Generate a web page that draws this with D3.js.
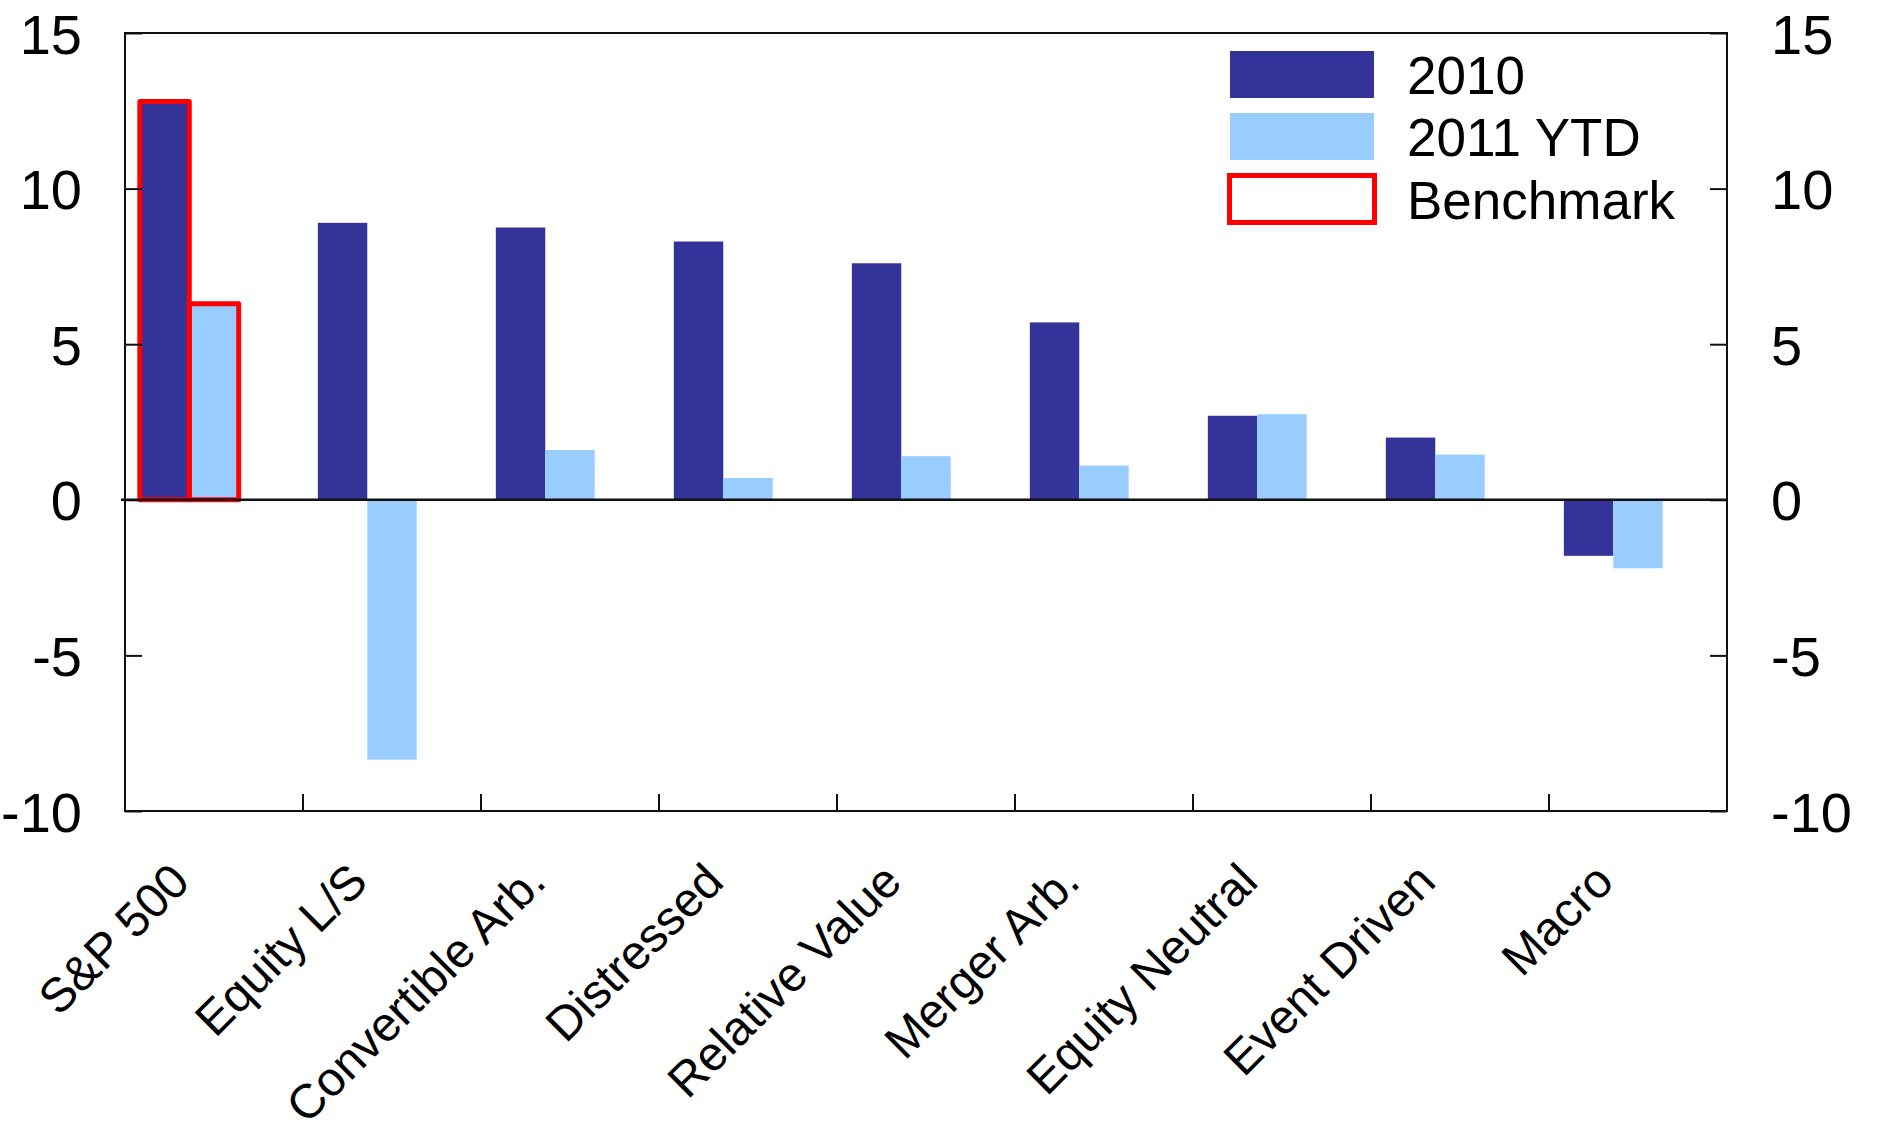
<!DOCTYPE html>
<html>
<head>
<meta charset="utf-8">
<script src="https://cdn.jsdelivr.net/npm/d3@7"></script>
<style>
  html, body { margin: 0; padding: 0; background: #fff; }
  svg { display: block; }
  text { font-family: "Liberation Sans", Arial, sans-serif; fill: #000; }
</style>
</head>
<body>
<svg id="chart" width="1883" height="1147"></svg>
<script>
// Hedge fund strategy returns vs. the S&P 500 (%)
const categories = ["S&P 500", "Equity L/S", "Convertible Arb.", "Distressed", "Relative Value",
                    "Merger Arb.", "Equity Neutral", "Event Driven", "Macro"];
const seriesNames = ["2010", "2011 YTD"];
const values2010 = [12.8, 8.9, 8.75, 8.3, 7.6, 5.7, 2.7, 2.0, -1.8];
const values2011 = [6.3, -8.35, 1.6, 0.7, 1.4, 1.1, 2.75, 1.45, -2.2];
const benchmarkCategory = "S&P 500";
const yTicks = [-10, -5, 0, 5, 10, 15];
const legendItems = ["2010", "2011 YTD", "Benchmark"];

const colors = { "2010": "#333399", "2011 YTD": "#99CCFF", "Benchmark": "#FF0000" };

const margin = { left: 125, right: 156, top: 33, bottom: 336 };
const W = 1883, H = 1147;
const plotW = W - margin.left - margin.right;
const plotH = H - margin.top - margin.bottom;

const svg = d3.select("#chart");
const g = svg.append("g").attr("transform", `translate(${margin.left},${margin.top})`);

const x = d3.scaleBand().domain(categories).range([0, plotW]).paddingInner(0).paddingOuter(0);
// three slots per category: two series plus an empty slot on the right
const xs = d3.scaleBand().domain([0, 1, 2]).range([0, x.bandwidth()]).paddingInner(0).paddingOuter(0.3);
const y = d3.scaleLinear().domain([-10, 15]).range([plotH, 0]);

const rows = categories.map((c, i) => ({ cat: c, vals: [values2010[i], values2011[i]] }));

// bars
const grp = g.selectAll("g.cat").data(rows).join("g")
  .attr("class", "cat")
  .attr("transform", d => `translate(${x(d.cat)},0)`);

grp.selectAll("rect.bar")
  .data(d => d.vals.map((v, k) => ({ v, k, cat: d.cat })))
  .join("rect")
  .attr("class", "bar")
  .attr("x", d => xs(d.k))
  .attr("width", xs.bandwidth())
  .attr("y", d => y(Math.max(0, d.v)))
  .attr("height", d => Math.abs(y(d.v) - y(0)))
  .attr("fill", d => colors[seriesNames[d.k]]);

// benchmark outline around the S&P 500 bars
grp.filter(d => d.cat === benchmarkCategory)
  .selectAll("rect.bench")
  .data(d => d.vals.map((v, k) => ({ v, k })))
  .join("rect")
  .attr("class", "bench")
  .attr("x", d => xs(d.k))
  .attr("width", xs.bandwidth())
  .attr("y", d => y(Math.max(0, d.v)))
  .attr("height", d => Math.abs(y(d.v) - y(0)))
  .attr("fill", "none")
  .attr("stroke", colors["Benchmark"])
  .attr("stroke-width", 5)
  .attr("stroke-linejoin", "round");

// zero line
g.append("line")
  .attr("x1", -4).attr("x2", plotW)
  .attr("y1", y(0)).attr("y2", y(0))
  .attr("stroke", "#111").attr("stroke-width", 2.5);

// frame
g.append("rect")
  .attr("x", 0).attr("y", 0).attr("width", plotW).attr("height", plotH)
  .attr("fill", "none").attr("stroke", "#111").attr("stroke-width", 2);

const tickLen = 17;
const fontTick = 56;
const fmt = d => String(d); // plain hyphen for negatives

// left axis: inward ticks, labels outside
const yLeft = d3.axisLeft(y).tickValues(yTicks).tickSize(-tickLen).tickPadding(43).tickFormat(fmt);
const gl = g.append("g").call(yLeft);
gl.select(".domain").remove();
gl.selectAll(".tick line").attr("stroke", "#111").attr("stroke-width", 2);
gl.selectAll(".tick text").style("font-size", fontTick + "px").attr("dy", "0.36em");

// right axis
const yRight = d3.axisRight(y).tickValues(yTicks).tickSize(-tickLen).tickPadding(44).tickFormat(fmt);
const gr = g.append("g").attr("transform", `translate(${plotW},0)`).call(yRight);
gr.select(".domain").remove();
gr.selectAll(".tick line").attr("stroke", "#111").attr("stroke-width", 2);
gr.selectAll(".tick text").style("font-size", fontTick + "px").attr("dy", "0.36em");

// bottom axis: ticks at category boundaries pointing up
g.append("g").selectAll("line.ctick")
  .data(categories.slice(1))
  .join("line")
  .attr("class", "ctick")
  .attr("x1", d => x(d)).attr("x2", d => x(d))
  .attr("y1", plotH).attr("y2", plotH - tickLen)
  .attr("stroke", "#111").attr("stroke-width", 2);

// category labels, rotated
g.append("g").selectAll("text.cat")
  .data(categories)
  .join("text")
  .attr("class", "cat")
  .attr("text-anchor", "end")
  .attr("transform", d => `translate(${x(d) + 67},${plotH + 73}) rotate(-45)`)
  .style("font-size", "48px")
  .text(d => d);

// legend
const leg = svg.append("g").attr("transform", "translate(1230,51)");
const legRows = leg.selectAll("g").data(legendItems).join("g")
  .attr("transform", (d, i) => `translate(0,${[0, 62, 124.5][i]})`);
legRows.append("rect")
  .attr("x", d => d === "Benchmark" ? -0.5 : 0)
  .attr("width", d => d === "Benchmark" ? 145 : 144)
  .attr("height", 47)
  .attr("fill", d => d === "Benchmark" ? "none" : colors[d])
  .attr("stroke", d => d === "Benchmark" ? colors[d] : "none")
  .attr("stroke-width", 5);
legRows.append("text")
  .attr("x", 177)
  .attr("y", 24)
  .attr("dy", "0.36em")
  .style("font-size", "53px")
  .text(d => d);
</script>
</body>
</html>
